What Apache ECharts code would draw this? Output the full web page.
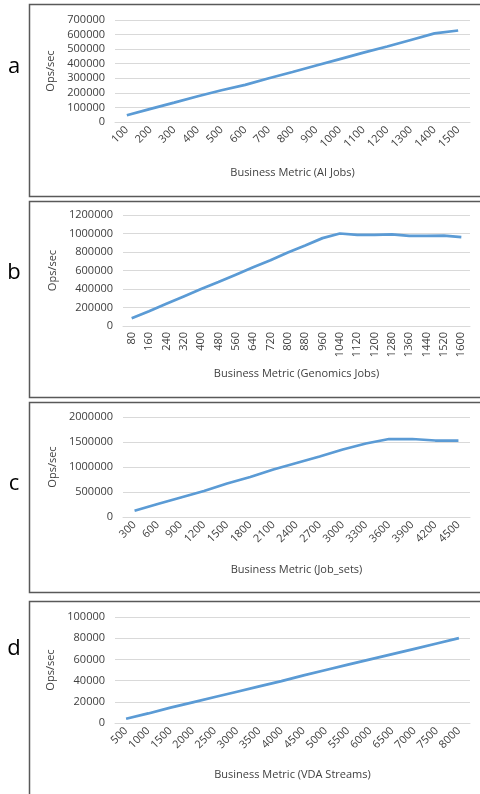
<!DOCTYPE html>
<html>
<head>
<meta charset="utf-8">
<script src="https://cdn.jsdelivr.net/npm/echarts@6/dist/echarts.min.js"></script>
<style>
  html, body { margin: 0; padding: 0; background: #fff; }
  #chart { width: 480px; height: 794px; }
</style>
</head>
<body>
<div id="chart"></div>
<script>
// panel a - AI jobs
const aiJobs = ['100', '200', '300', '400', '500', '600', '700', '800', '900', '1000', '1100', '1200', '1300', '1400', '1500'];
const aiOps = [46000, 90000, 133000, 177000, 218000, 255000, 300000, 343000, 388000, 432000, 476000, 518000, 563000, 608000, 628000];

// panel b - genomics jobs
const genJobs = ['80', '160', '240', '320', '400', '480', '560', '640', '720', '800', '880', '960', '1040', '1120', '1200', '1280', '1360', '1440', '1520', '1600'];
const genOps = [83000, 160000, 240000, 320000, 400000, 475000, 555000, 635000, 710000, 795000, 870000, 950000, 1000000, 985000, 985000, 990000, 975000, 975000, 978000, 962000];

// panel c - job sets
const jobSets = ['300', '600', '900', '1200', '1500', '1800', '2100', '2400', '2700', '3000', '3300', '3600', '3900', '4200', '4500'];
const jobOps = [126000, 260000, 390000, 520000, 670000, 800000, 950000, 1080000, 1210000, 1350000, 1470000, 1560000, 1560000, 1530000, 1530000];

// panel d - VDA streams
const vdaStreams = ['500', '1000', '1500', '2000', '2500', '3000', '3500', '4000', '4500', '5000', '5500', '6000', '6500', '7000', '7500', '8000'];
const vdaOps = [4000, 9000, 14500, 19500, 24500, 29500, 34500, 39500, 45000, 50000, 55000, 60000, 65000, 70000, 75000, 80000];

const panelLetters = ['a', 'b', 'c', 'd'];
const xTitles = ['Business Metric (AI Jobs)', 'Business Metric (Genomics Jobs)', 'Business Metric (Job_sets)', 'Business Metric (VDA Streams)'];
const yMax = [700000, 1200000, 2000000, 100000];
const yStep = [100000, 200000, 500000, 20000];

const panels = [
  { cats: aiJobs, vals: aiOps, grid: { left: 115, top: 20, width: 355, height: 102 }, rotate: 45, nameGap: 45, box: [4, 192], letterY: 67 },
  { cats: genJobs, vals: genOps, grid: { left: 123, top: 215, width: 347, height: 111 }, rotate: 90, nameGap: 42, box: [201, 196], letterY: 273 },
  { cats: jobSets, vals: jobOps, grid: { left: 123, top: 417, width: 347, height: 100 }, rotate: 45, nameGap: 47, box: [402, 190], letterY: 484 },
  { cats: vdaStreams, vals: vdaOps, grid: { left: 115, top: 617, width: 355, height: 106 }, rotate: 45, nameGap: 46, box: [601, 200], letterY: 649 },
];

const font = 'Open Sans';
const textColor = '#404040';

const chart = echarts.init(document.getElementById('chart'));

const grids = [], xAxes = [], yAxes = [], series = [], graphics = [];
panels.forEach((p, i) => {
  grids.push(Object.assign({ containLabel: false }, p.grid));
  xAxes.push({
    type: 'category',
    gridIndex: i,
    data: p.cats,
    boundaryGap: true,
    name: xTitles[i],
    nameLocation: 'middle',
    nameGap: p.nameGap,
    nameTextStyle: { fontFamily: font, fontSize: 11, color: textColor },
    axisLine: { lineStyle: { color: '#d9d9d9' } },
    axisTick: { show: false },
    axisLabel: { interval: 0, rotate: p.rotate, margin: 6, fontFamily: font, fontSize: 11, color: textColor },
  });
  yAxes.push({
    type: 'value',
    gridIndex: i,
    min: 0,
    max: yMax[i],
    interval: yStep[i],
    name: 'Ops/sec',
    nameLocation: 'middle',
    nameGap: p.grid.left - 72,
    nameTextStyle: { fontFamily: font, fontSize: 11, color: textColor },
    axisLine: { show: false },
    axisTick: { show: false },
    axisLabel: { margin: 10, fontFamily: font, fontSize: 11, color: textColor, formatter: v => String(v) },
    splitLine: { lineStyle: { color: '#d9d9d9' } },
  });
  series.push({
    type: 'line',
    xAxisIndex: i,
    yAxisIndex: i,
    data: p.vals,
    showSymbol: false,
    lineStyle: { color: '#5b9bd5', width: 2.75 },
    itemStyle: { color: '#5b9bd5' },
  });
  graphics.push({
    type: 'rect',
    shape: { x: 29.5, y: p.box[0] + 0.5, width: 460, height: p.box[1] },
    style: { fill: 'none', stroke: '#595959', lineWidth: 1.5 },
  });
  graphics.push({
    type: 'text',
    x: 14,
    y: p.letterY,
    style: { text: panelLetters[i], fontFamily: font, fontSize: 22, fill: '#000', align: 'center', verticalAlign: 'middle' },
  });
});

chart.setOption({
  animation: false,
  grid: grids,
  xAxis: xAxes,
  yAxis: yAxes,
  series: series,
  graphic: graphics,
});
</script>
</body>
</html>
